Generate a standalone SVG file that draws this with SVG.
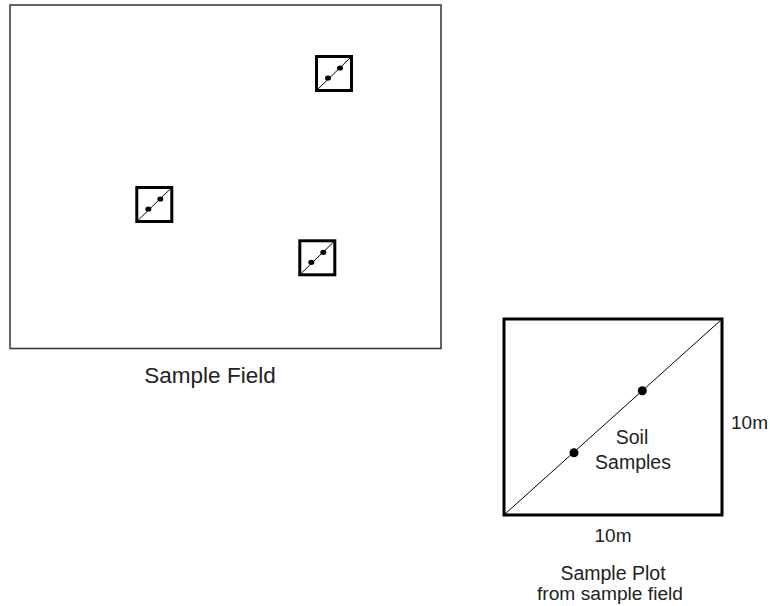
<svg xmlns="http://www.w3.org/2000/svg" xmlns:xlink="http://www.w3.org/1999/xlink" width="770" height="606" viewBox="0 0 770 606">
<style>
  .lbl { font-family: "Liberation Sans", Arial, sans-serif; fill: #222; }
  .field { fill: none; stroke: #333; stroke-width: 1.5; }
  .box { fill: #fff; stroke: #000; stroke-width: 3; }
  .diag { stroke: #000; stroke-width: 1; }
  .dot { fill: #000; }
</style>
<defs>
  <g id="miniPlot">
    <rect class="box" x="0" y="0" width="35" height="34"/>
    <line class="diag" x1="1.5" y1="32.5" x2="33.5" y2="1.5"/>
    <ellipse class="dot" cx="11.5" cy="21.5" rx="3" ry="2.6"/>
    <ellipse class="dot" cx="23.5" cy="11.5" rx="3" ry="2.6"/>
  </g>
</defs>
<rect width="770" height="606" fill="#fff"/>
<g id="sample-field">
  <rect class="field" x="10" y="5" width="431" height="343.5"/>
  <text class="lbl" x="210" y="383" font-size="22.5" text-anchor="middle">Sample Field</text>
</g>
<g id="plot-1"><use xlink:href="#miniPlot" href="#miniPlot" x="316.5" y="56.5"/></g>
<g id="plot-2"><use xlink:href="#miniPlot" href="#miniPlot" x="136.8" y="187.5"/></g>
<g id="plot-3"><use xlink:href="#miniPlot" href="#miniPlot" x="299.8" y="240.8"/></g>
<g id="sample-plot">
  <rect class="box" x="504" y="319" width="218" height="196"/>
  <line class="diag" x1="505" y1="514" x2="721" y2="320"/>
  <circle class="dot" cx="642.3" cy="390.7" r="4.5"/>
  <circle class="dot" cx="574" cy="452.7" r="4.5"/>
  <text class="lbl" x="632" y="444" font-size="19.5" text-anchor="middle">Soil</text>
  <text class="lbl" x="633" y="468.5" font-size="19.5" text-anchor="middle">Samples</text>
  <text class="lbl" x="731" y="429" font-size="19">10m</text>
  <text class="lbl" x="613" y="542" font-size="19" text-anchor="middle">10m</text>
  <text class="lbl" x="613" y="580" font-size="19.5" text-anchor="middle">Sample Plot</text>
  <text class="lbl" x="610" y="600" font-size="19.2" text-anchor="middle">from sample field</text>
</g>
</svg>
